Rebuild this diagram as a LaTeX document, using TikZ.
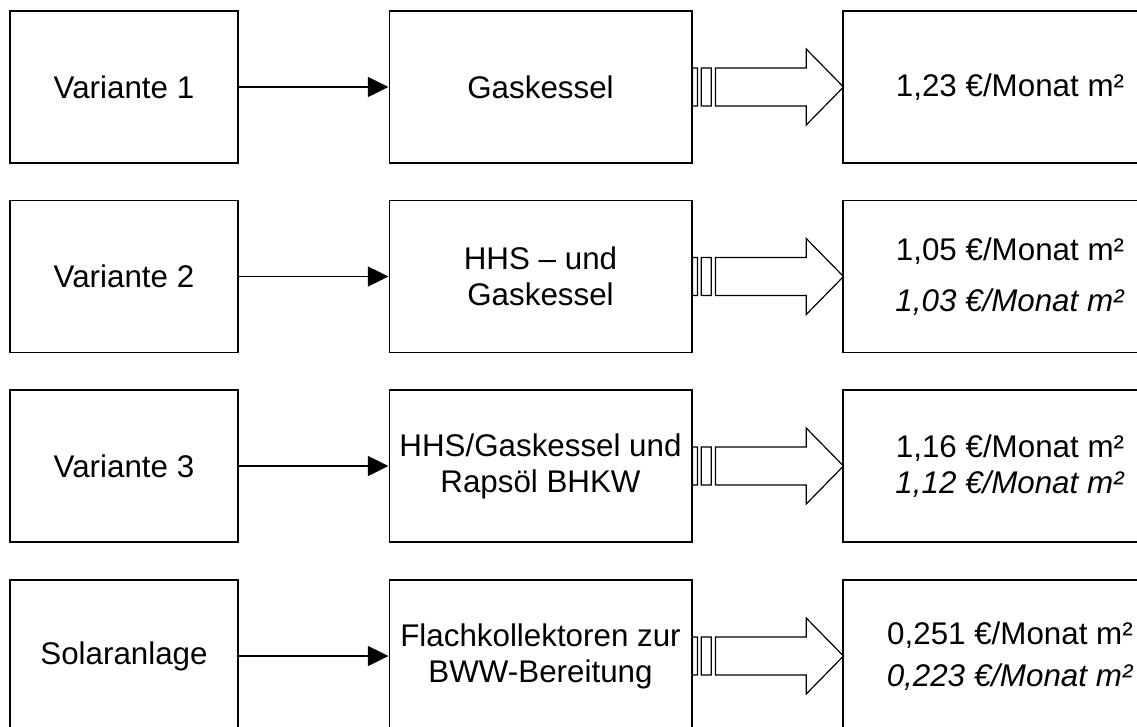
\documentclass[tikz,border=0pt]{standalone}
\usepackage{fontspec}
\setmainfont{Liberation Sans}
\usepackage{tikz}
\usetikzlibrary{arrows.meta}
\newcommand{\ital}[1]{\textit{#1}}
\newcommand{\blockarrow}[1]{%
  \draw[line width=0.9pt, shift={(#1.east)}]
    (0,-19) rectangle (5,19)
    (8.7,-19) rectangle (18.7,19)
    (23,-19) -- (113.7,-19) -- (113.7,-38) -- (151,0)
      -- (113.7,38) -- (113.7,19) -- (23,19) -- cycle;}

\begin{document}
\begin{tikzpicture}[x=0.75pt,y=-0.75pt,
    font=\fontsize{23.5}{27}\selectfont]
    \useasboundingbox (0,0) rectangle (1137,726);
    \begin{scope}[every node/.style={draw=black,line width=1pt,
        minimum height=114pt,align=center,inner sep=0pt}]
      \node[minimum width=171pt] (V1) at (124,87) {Variante 1};
      \node[minimum width=171pt] (V2) at (124,276.5) {Variante 2};
      \node[minimum width=171pt] (V3) at (124,466) {Variante 3};
      \node[minimum width=171pt] (V4) at (124,656) {Solaranlage};

      \node[minimum width=227pt] (K1) at (540.5,87) {Gaskessel};
      \node[minimum width=227pt] (K2) at (540.5,276.5)
           {HHS -- und\\Gaskessel};
      \node[minimum width=227pt] (K3) at (540.5,466)
           {HHS/Gaskessel und\\Rapsöl BHKW};
      \node[minimum width=227pt] (K4) at (540.5,656)
           {Flachkollektoren zur\\BWW-Bereitung};

      \node[minimum width=250.5pt] (C1) at (1010,87) {1,23 €/Monat m²};
      \node[minimum width=250.5pt] (C2) at (1010,276.5)
           {1,05 €/Monat m²\\[11pt]\ital{1,03 €/Monat m²}};
      \node[minimum width=250.5pt] (C3) at (1010,466)
           {1,16 €/Monat m²\\\ital{1,12 €/Monat m²}};
      \node[minimum width=250.5pt] (C4) at (1010,656)
           {0,251 €/Monat m²\\[5pt]\ital{0,223 €/Monat m²}};
    \end{scope}

    \begin{scope}[>={Triangle[length=15.5pt,width=15pt]},
        every edge/.style={draw=black,line width=1pt}]
      \path [->] (V1) edge (K1);
      \path [->] (V2) edge (K2);
      \path [->] (V3) edge (K3);
      \path [->] (V4) edge (K4);
    \end{scope}

    \blockarrow{K1}
    \blockarrow{K2}
    \blockarrow{K3}
    \blockarrow{K4}
  \end{tikzpicture}
\end{document}
